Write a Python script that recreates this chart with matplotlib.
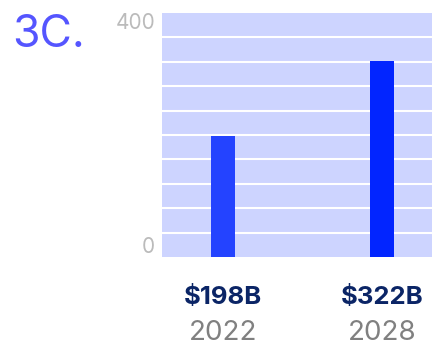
import matplotlib.pyplot as plt
import matplotlib.transforms as mtransforms
import numpy as np

years = ["2022", "2028"]
values = [198, 322]
bar_colors = ["#2443FF", "#0225FF"]
ytick_vals = [0, 400]
grid_vals = np.arange(0, 401, 40)

plt.rcParams['font.family'] = ['Inter', 'DejaVu Sans']

fig = plt.figure(figsize=(4.32, 3.47), dpi=100)
ax = fig.add_axes([162/432, 90/347, 270/432, 244/347])

x = np.arange(len(years))
ax.set_facecolor("#CDD4FF")
ax.set_yticks(grid_vals, minor=True)
ax.grid(True, which='minor', axis='y', color='white', linewidth=1.5)
ax.set_axisbelow(True)
ax.bar(x, values, width=0.15, color=bar_colors, zorder=3)

ax.set_xlim(-0.384, 1.314)
ax.set_ylim(0, 400)
ax.set_xticks([])
ax.set_yticks(ytick_vals)
ax.set_yticklabels([str(v) for v in ytick_vals], color="#BBBBBB", fontsize=15)
ax.tick_params(axis='y', which='both', length=0, pad=5)
labels = ax.get_yticklabels()
labels[0].set_va('bottom')
labels[1].set_va('top')
for s in ax.spines.values():
    s.set_visible(False)

trans = mtransforms.blended_transform_factory(ax.transData, ax.transAxes)
for xi, v, yr in zip(x, values, years):
    ax.text(xi, -0.165, f"${v}B", transform=trans, ha='center', va='center',
            fontsize=18.5, fontweight='bold', color="#0B2566")
    ax.text(xi, -0.31, yr, transform=trans, ha='center', va='center',
            fontsize=20, color="#808080")

fig.text(12/432, 1 - 47/347, "3C.", fontsize=32, color="#5555FF", ha='left', va='baseline')

fig.savefig("out.png", dpi=100)
